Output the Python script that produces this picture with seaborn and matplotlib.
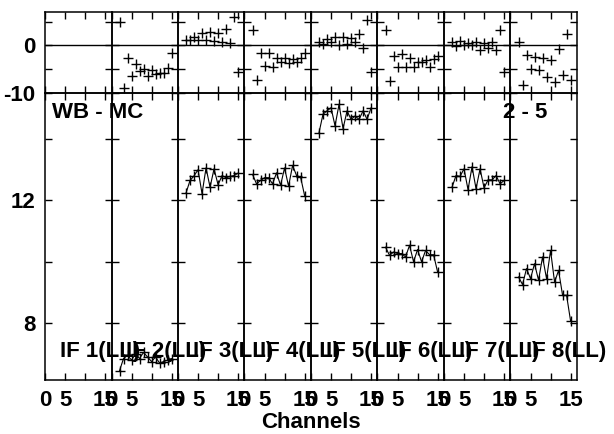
import numpy as np
import pandas as pd
import matplotlib
matplotlib.use('Agg')
import matplotlib.pyplot as plt
import seaborn as sns

# ---- data ----
channels = list(range(2, 16))
if_labels = ['IF 1(LL)', 'IF 2(LL)', 'IF 3(LL)', 'IF 4(LL)',
             'IF 5(LL)', 'IF 6(LL)', 'IF 7(LL)', 'IF 8(LL)']

# residuals (top strip), IF 1 has no data
resid = [
    [],
    [4.9, -9.0, -2.6, -6.5, -4.0, -5.3, -5.0, -6.4, -5.1, -6.0, -5.9, -5.8, -4.8, -1.5],
    [1.1, 1.1, 1.8, 1.1, 2.5, 1.1, 2.7, 1.0, 2.5, 0.6, 3.4, 0.5, 6.0, -5.5],
    [3.2, -7.2, -1.5, -4.4, -1.7, -4.6, -2.6, -3.4, -2.7, -3.8, -2.8, -3.4, -2.7, -1.5],
    [0.8, 0.2, 1.3, 0.8, 1.8, 0.1, 1.8, 0.2, 1.5, 0.6, 2.3, -0.5, 5.3, -5.5],
    [3.2, -7.4, -2.2, -4.6, -1.9, -4.6, -2.6, -4.6, -3.4, -3.4, -3.1, -4.6, -2.9, -2.2],
    [0.6, -0.1, 1.0, 0.1, 0.4, 0.1, 0.8, -1.0, 0.4, -0.5, 0.6, -1.0, 3.2, -5.5],
    [0.8, -8.4, -2.0, -4.9, -2.4, -5.1, -2.6, -6.7, -3.1, -7.7, -0.8, -6.3, 2.3, -7.2],
]

# WB - MC values (main panels)
wbmc = [
    [],
    [6.45, 6.85, 6.95, 6.8, 7.0, 6.85, 7.05, 6.9, 6.75, 6.9, 6.7, 6.75, 6.8, 6.85],
    [12.24, 12.65, 12.8, 13.0, 12.22, 13.06, 12.43, 13.03, 12.51, 12.81, 12.74, 12.78, 12.81, 12.89],
    [12.85, 12.54, 12.65, 12.74, 12.74, 12.54, 12.9, 12.49, 13.06, 12.46, 13.14, 12.81, 12.76, 12.16],
    [14.21, 14.81, 14.92, 15.02, 14.43, 15.13, 14.34, 14.92, 14.64, 14.75, 14.64, 14.92, 14.64, 15.02],
    [10.48, 10.21, 10.32, 10.27, 10.27, 10.16, 10.54, 10.0, 10.4, 10.0, 10.37, 10.23, 10.23, 9.67],
    [12.43, 12.81, 12.78, 13.03, 12.35, 13.1, 12.38, 13.03, 12.41, 12.67, 12.67, 12.81, 12.54, 12.65],
    [9.51, 9.26, 9.78, 9.45, 9.94, 9.4, 10.16, 9.45, 10.37, 9.34, 9.72, 8.91, 8.91, 8.07],
]

rows = []
for k, lab in enumerate(if_labels):
    for ch, r, v in zip(channels, resid[k], wbmc[k]):
        rows.append({'IF': lab, 'channel': ch, 'resid': r, 'value': v})
df = pd.DataFrame(rows)

# ---- style ----
sns.set_style('ticks')
plt.rcParams['font.family'] = ['Liberation Sans', 'DejaVu Sans']
plt.rcParams['font.weight'] = 'bold'
plt.rcParams['font.size'] = 16
for key in ['text.color', 'axes.labelcolor', 'xtick.color', 'ytick.color',
            'axes.edgecolor']:
    plt.rcParams[key] = 'black'

W, H = 614, 434
fig = plt.figure(figsize=(W / 100, H / 100), dpi=100)
gs = fig.add_gridspec(2, 8, left=45 / W, right=577 / W, top=1 - 12 / H,
                      bottom=1 - 380 / H, height_ratios=[81, 287],
                      hspace=0, wspace=0)


def style_axis(ax):
    for sp in ax.spines.values():
        sp.set_color('black')
        sp.set_linewidth(1.1)
    ax.tick_params(direction='in', length=5, width=1, color='black',
                   labelcolor='black', top=True, right=True, pad=7)
    ax.set_facecolor('none')
    ax.set_xlabel('')
    ax.set_ylabel('')


for k, lab in enumerate(if_labels):
    sub = df[df['IF'] == lab]
    ax_t = fig.add_subplot(gs[0, k])
    ax_b = fig.add_subplot(gs[1, k])

    ax_t.axhline(0, color='black', lw=1)
    if len(sub):
        sns.scatterplot(data=sub, x='channel', y='resid', marker='+',
                        color='black', s=50, linewidth=1, ax=ax_t, zorder=3)
        sns.lineplot(data=sub, x='channel', y='value', color='black',
                     lw=0.8, marker='+', markersize=7, markeredgewidth=1,
                     markeredgecolor='black', estimator=None, sort=False,
                     ax=ax_b)

    ax_t.set_xlim(0, 16.6)
    ax_b.set_xlim(0, 16.6)
    ax_t.set_ylim(-10, 7)
    ax_b.set_ylim(6.15, 15.5)

    ax_t.set_xticks([0, 5, 10, 15])
    ax_t.set_xticklabels([])
    ax_b.set_xticks([0, 5, 10, 15])
    ax_b.set_xticklabels(['0', '5', '', '15'])

    ax_t.set_yticks([-10, -5, 0, 5])
    ax_b.set_yticks([8, 10, 12, 14])
    if k == 0:
        ax_t.set_yticklabels(['-10', '', '0', ''])
        ax_b.set_yticklabels(['8', '', '12', ''])
    else:
        ax_t.set_yticklabels([])
        ax_b.set_yticklabels([])

    style_axis(ax_t)
    style_axis(ax_b)

    fig.text((45 + 66.5 * k + 15) / W, 1 - 352 / H, lab,
             ha='left', va='center', fontsize=16, fontweight='bold')

fig.text(52 / W, 1 - 112 / H, 'WB - MC', ha='left', va='center',
         fontsize=16, fontweight='bold')
fig.text(503 / W, 1 - 112 / H, '2 - 5', ha='left', va='center',
         fontsize=16, fontweight='bold')
fig.text(311 / W, 1 - 423 / H, 'Channels', ha='center', va='center',
         fontsize=16, fontweight='bold')

fig.savefig('out.png', dpi=100)
